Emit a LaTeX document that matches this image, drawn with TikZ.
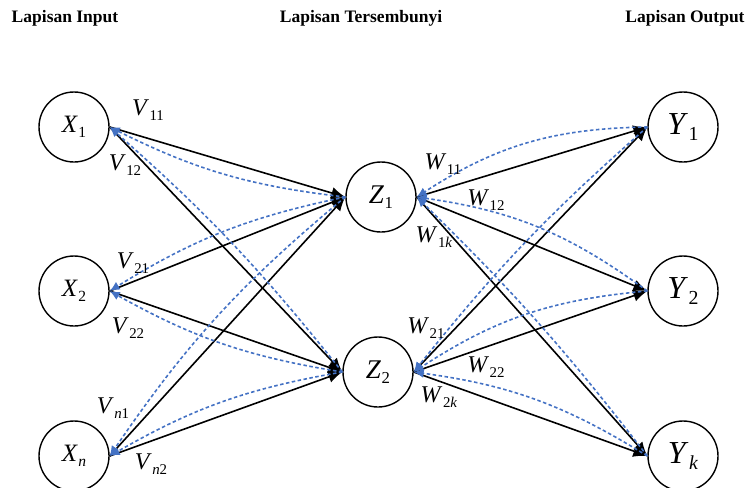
\documentclass[tikz,border=0pt]{standalone}
\usepackage{fontspec}
\setmainfont{Liberation Serif}
\usetikzlibrary{arrows.meta}
\definecolor{bpblue}{RGB}{68,114,196}
\newcommand{\wlbl}[2]{\textit{#1}\kern0.5pt\raisebox{-0.45ex}{\scalebox{0.62}{#2}}}

\begin{document}
\begin{tikzpicture}[
    x=1pt, y=-1pt,
    neuron/.style={circle, draw=black, line width=1.4pt, minimum size=70pt, inner sep=0pt},
    weight/.style={-{Latex[length=14pt, width=12pt]}, line width=1.6pt},
    backprop/.style={-{Latex[length=10pt, width=9pt]}, line width=1.6pt, bpblue, dash pattern=on 3.5pt off 2.5pt},
    wlabel/.style={font=\fontsize{24}{28}\selectfont, inner sep=0pt},
    title/.style={font=\fontsize{17.5}{20}\selectfont\bfseries}
]
    \useasboundingbox (0,0) rectangle (751,487);

    % Titles
    \node[title] (tin) at (65,18) {Lapisan Input};
    \node[title] (thid) at (361,18) {Lapisan Tersembunyi};
    \node[title] (tout) at (685,18) {Lapisan Output};

    % Nodes
    \node[neuron, font=\fontsize{25}{28}\selectfont] (x1) at (74,127) {\wlbl{X}{1}};
    \node[neuron, font=\fontsize{25}{28}\selectfont] (x2) at (74,291) {\wlbl{X}{2}};
    \node[neuron, font=\fontsize{25}{28}\selectfont] (xn) at (74,456) {\wlbl{X}{\textit{n}}};
    \node[neuron, font=\fontsize{27}{30}\selectfont] (z1) at (381,197) {\wlbl{Z}{1}};
    \node[neuron, font=\fontsize{27}{30}\selectfont] (z2) at (378,372) {\wlbl{Z}{2}};
    \node[neuron, font=\fontsize{32}{36}\selectfont] (y1) at (683,127) {\wlbl{Y}{1}};
    \node[neuron, font=\fontsize{32}{36}\selectfont] (y2) at (683,291) {\wlbl{Y}{2}};
    \node[neuron, font=\fontsize{32}{36}\selectfont] (yk) at (683,456) {\wlbl{Y}{\textit{k}}};

    % Forward arrows
    \foreach \i in {x1,x2,xn}
      \foreach \j in {z1,z2}
        \draw[weight] (\i.east) -- (\j.west);
    \foreach \j in {z1,z2}
      \foreach \k in {y1,y2,yk}
        \draw[weight] (\j.east) -- (\k.west);

    % Error arrows
    \foreach \s/\t/\a in {z1/x1/10, z2/x1/-5, z1/x2/-10, z2/x2/10, z1/xn/-8, z2/xn/-10}
      \draw[backprop] (\s.west) to[bend left=\a] (\t.east);
    \foreach \s/\t/\a in {y1/z1/-16, y2/z1/-14, yk/z1/-4, y1/z2/-5, y2/z2/-14, yk/z2/-12}
      \draw[backprop] (\s.west) to[bend left=\a] (\t.east);

    % Weight labels
    \node[wlabel] (v11) at (148,110) {\wlbl{V}{11}};
    \node[wlabel] (v12) at (125,165) {\wlbl{V}{12}};
    \node[wlabel] (v21) at (133,263) {\wlbl{V}{21}};
    \node[wlabel] (v22) at (128,328) {\wlbl{V}{22}};
    \node[wlabel] (vn1) at (113,408) {\wlbl{V}{\textit{n}1}};
    \node[wlabel] (vn2) at (151,464) {\wlbl{V}{\textit{n}2}};
    \node[wlabel] (w11) at (443,164) {\wlbl{W}{11}};
    \node[wlabel] (w12) at (486,200) {\wlbl{W}{12}};
    \node[wlabel] (w1k) at (434,237) {\wlbl{W}{1\textit{k}}};
    \node[wlabel] (w21) at (426,328) {\wlbl{W}{21}};
    \node[wlabel] (w22) at (486,367) {\wlbl{W}{22}};
    \node[wlabel] (w2k) at (439,397) {\wlbl{W}{2\textit{k}}};
\end{tikzpicture}
\end{document}
